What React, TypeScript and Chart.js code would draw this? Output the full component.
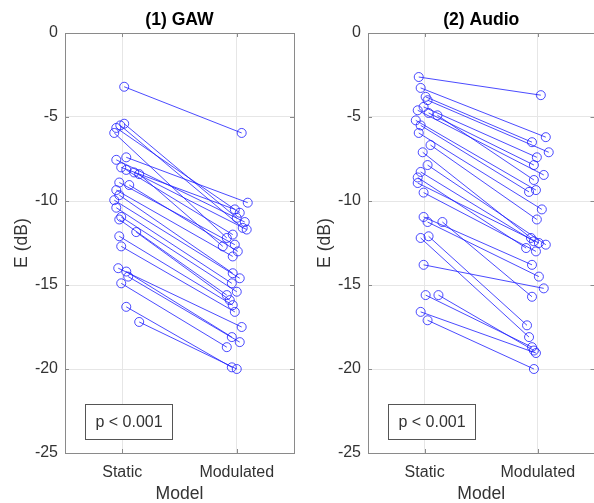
import React, { useEffect, useRef } from "react";
import { Chart, registerables } from "chart.js";

Chart.register(...registerables);

const FONT = "'Liberation Sans', Arial, Helvetica, sans-serif";

const categories = ["Static", "Modulated"];
const yTicks = [0, -5, -10, -15, -20, -25];

// (1) GAW
const gawStatic = [-3.2, -5.4, -5.5, -5.65, -5.95, -7.4, -7.55, -8.0, -8.15, -8.3, -8.4, -8.9, -9.05, -9.35, -9.65, -9.95, -10.4, -10.95, -11.1, -11.85, -12.1, -12.7, -14.0, -14.2, -14.5, -14.9, -16.3, -17.2];
const gawModulated = [-5.95, -11.0, -11.6, -10.7, -12.2, -10.1, -11.25, -10.5, -12.0, -11.7, -12.7, -12.6, -13.0, -13.3, -14.3, -14.6, -14.9, -15.4, -15.6, -15.9, -16.2, -16.6, -17.5, -18.1, -18.4, -18.7, -19.9, -20.0];
const gawStaticX = [1.017, 1.017, 0.983, 0.948, 0.93, 1.035, 0.948, 0.991, 1.035, 1.104, 1.148, 0.974, 1.061, 0.948, 0.974, 0.93, 0.948, 0.991, 0.974, 1.122, 0.974, 0.991, 0.965, 1.035, 1.052, 0.991, 1.035, 1.148];
const gawModX = [2.043, 2.0, 2.052, 2.026, 1.913, 2.096, 2.07, 1.983, 1.965, 2.087, 1.878, 1.983, 2.009, 1.965, 1.965, 2.026, 1.957, 2.0, 1.913, 1.939, 1.965, 1.983, 2.043, 1.957, 2.026, 1.913, 1.957, 2.0];

// (2) Audio
const audioStatic = [-2.62, -3.27, -3.8, -4.0, -4.4, -4.6, -4.76, -4.9, -5.2, -5.5, -5.95, -6.67, -7.1, -7.86, -8.27, -8.6, -8.93, -9.5, -10.95, -11.25, -11.25, -12.1, -12.2, -13.8, -15.6, -15.6, -16.6, -17.1];
const audioModulated = [-3.7, -6.2, -6.5, -7.1, -7.4, -8.45, -7.86, -8.75, -9.35, -9.46, -10.5, -11.1, -12.2, -12.6, -12.4, -12.8, -12.5, -13.0, -13.8, -14.5, -15.7, -17.4, -18.1, -15.2, -18.7, -18.9, -19.05, -20.0];
const audioStaticX = [0.948, 0.965, 1.009, 1.026, 0.991, 0.939, 1.035, 1.113, 0.922, 0.965, 0.948, 1.052, 0.983, 1.026, 0.965, 0.939, 0.939, 0.991, 0.991, 1.026, 1.157, 1.035, 0.965, 0.991, 1.009, 1.122, 0.965, 1.026];
const audioModX = [2.026, 2.07, 1.948, 2.096, 1.991, 2.052, 1.965, 1.965, 1.983, 1.922, 2.035, 1.991, 1.939, 2.07, 1.965, 1.896, 2.009, 1.983, 1.948, 2.009, 1.948, 1.904, 1.922, 2.052, 1.948, 1.965, 1.983, 1.965];

const pLabel = "p < 0.001";

const BLUE = "rgba(30,30,255,0.8)";
const AXIS = "#8a8a8a";
const TEXT = "#333333";
const GRID = "#e6e6e6";

type PanelCfg = {
  title: string;
  statics: number[];
  mods: number[];
  sx: number[];
  mx: number[];
  yWidth: number;
  padRight: number;
};

function makeChart(canvas: HTMLCanvasElement, cfg: PanelCfg) {
  const datasets = cfg.statics.map((s, i) => ({
    data: [
      { x: cfg.sx[i], y: s },
      { x: cfg.mx[i], y: cfg.mods[i] },
    ],
    showLine: true,
    borderColor: BLUE,
    borderWidth: 1,
    pointRadius: 4.5,
    pointBorderColor: BLUE,
    pointBorderWidth: 1,
    pointBackgroundColor: "rgba(0,0,0,0)",
    fill: false,
    tension: 0,
  }));

  const deco = {
    id: "deco",
    afterDraw(chart: any) {
      const ctx = chart.ctx as CanvasRenderingContext2D;
      const a = chart.chartArea;
      const xs = chart.scales.x;
      const ys = chart.scales.y;
      ctx.save();
      ctx.strokeStyle = AXIS;
      ctx.lineWidth = 1;
      ctx.strokeRect(Math.round(a.left) + 0.5, Math.round(a.top) + 0.5, Math.round(a.right - a.left), Math.round(a.bottom - a.top));
      ctx.beginPath();
      [1, 2].forEach((v) => {
        const px = Math.round(xs.getPixelForValue(v)) + 0.5;
        ctx.moveTo(px, a.bottom);
        ctx.lineTo(px, a.bottom - 4);
        ctx.moveTo(px, a.top);
        ctx.lineTo(px, a.top + 4);
      });
      yTicks.forEach((v) => {
        const py = Math.round(ys.getPixelForValue(v)) + 0.5;
        ctx.moveTo(a.left, py);
        ctx.lineTo(a.left + 4, py);
        ctx.moveTo(a.right, py);
        ctx.lineTo(a.right - 4, py);
      });
      ctx.stroke();
      const cx = (a.left + a.right) / 2;
      ctx.fillStyle = "#000";
      ctx.font = `bold 17.6px ${FONT}`;
      ctx.textAlign = "center";
      ctx.textBaseline = "middle";
      ctx.fillText(cfg.title, cx, 20);
      ctx.fillStyle = TEXT;
      ctx.font = `17.6px ${FONT}`;
      ctx.textBaseline = "alphabetic";
      ctx.fillText("Model", cx, 499);
      ctx.save();
      ctx.translate(a.left - 43, (a.top + a.bottom) / 2);
      ctx.rotate(-Math.PI / 2);
      ctx.textBaseline = "middle";
      ctx.fillText("E (dB)", 0, 0);
      ctx.restore();
      const bx = Math.round(a.left + 20) + 0.5;
      const by = Math.round(a.bottom - 49) + 0.5;
      const bw = 87;
      const bh = 35;
      ctx.fillStyle = "#fff";
      ctx.fillRect(bx, by, bw, bh);
      ctx.strokeStyle = "#555";
      ctx.strokeRect(bx, by, bw, bh);
      ctx.fillStyle = TEXT;
      ctx.font = `16px ${FONT}`;
      ctx.textAlign = "center";
      ctx.textBaseline = "middle";
      ctx.fillText(pLabel, bx + bw / 2, by + bh / 2 + 1);
      ctx.restore();
    },
  };

  return new Chart(canvas, {
    type: "scatter",
    data: { datasets } as any,
    options: {
      animation: false,
      responsive: false,
      events: [],
      layout: { padding: { top: 33, right: cfg.padRight, left: 0, bottom: 0 } },
      plugins: { legend: { display: false }, tooltip: { enabled: false } },
      scales: {
        x: {
          type: "linear",
          min: 0.5,
          max: 2.5,
          afterBuildTicks: (s: any) => {
            s.ticks = [{ value: 1 }, { value: 2 }];
          },
          afterFit: (s: any) => {
            s.height = 50;
          },
          ticks: {
            callback: (v: any) => (v === 1 ? categories[0] : v === 2 ? categories[1] : ""),
            font: { size: 16, family: FONT },
            color: TEXT,
            padding: 10,
            maxRotation: 0,
            autoSkip: false,
          },
          grid: { color: GRID, drawTicks: false, lineWidth: 1 },
          border: { display: false },
        },
        y: {
          type: "linear",
          min: -25,
          max: 0,
          afterBuildTicks: (s: any) => {
            s.ticks = yTicks.map((v) => ({ value: v }));
          },
          afterFit: (s: any) => {
            s.width = cfg.yWidth;
          },
          ticks: {
            callback: (v: any) => String(v),
            font: { size: 16, family: FONT },
            color: TEXT,
            padding: 7,
          },
          grid: { color: GRID, drawTicks: false, lineWidth: 1 },
          border: { display: false },
        },
      },
    } as any,
    plugins: [deco],
  });
}

export default function App() {
  const leftRef = useRef<HTMLCanvasElement>(null);
  const rightRef = useRef<HTMLCanvasElement>(null);

  useEffect(() => {
    const c1 = makeChart(leftRef.current!, {
      title: "(1) GAW",
      statics: gawStatic,
      mods: gawModulated,
      sx: gawStaticX,
      mx: gawModX,
      yWidth: 65,
      padRight: 6,
    });
    const c2 = makeChart(rightRef.current!, {
      title: "(2) Audio",
      statics: audioStatic,
      mods: audioModulated,
      sx: audioStaticX,
      mx: audioModX,
      yWidth: 68,
      padRight: 2,
    });
    return () => {
      c1.destroy();
      c2.destroy();
    };
  }, []);

  return (
    <div
      style={{
        position: "fixed",
        left: 0,
        top: 0,
        width: 594,
        height: 503,
        overflow: "hidden",
        background: "#fff",
      }}
    >
      <canvas
        ref={leftRef}
        width={300}
        height={503}
        style={{ position: "absolute", left: 0, top: 0, width: 300, height: 503 }}
      />
      <canvas
        ref={rightRef}
        width={300}
        height={503}
        style={{ position: "absolute", left: 300, top: 0, width: 300, height: 503 }}
      />
    </div>
  );
}
